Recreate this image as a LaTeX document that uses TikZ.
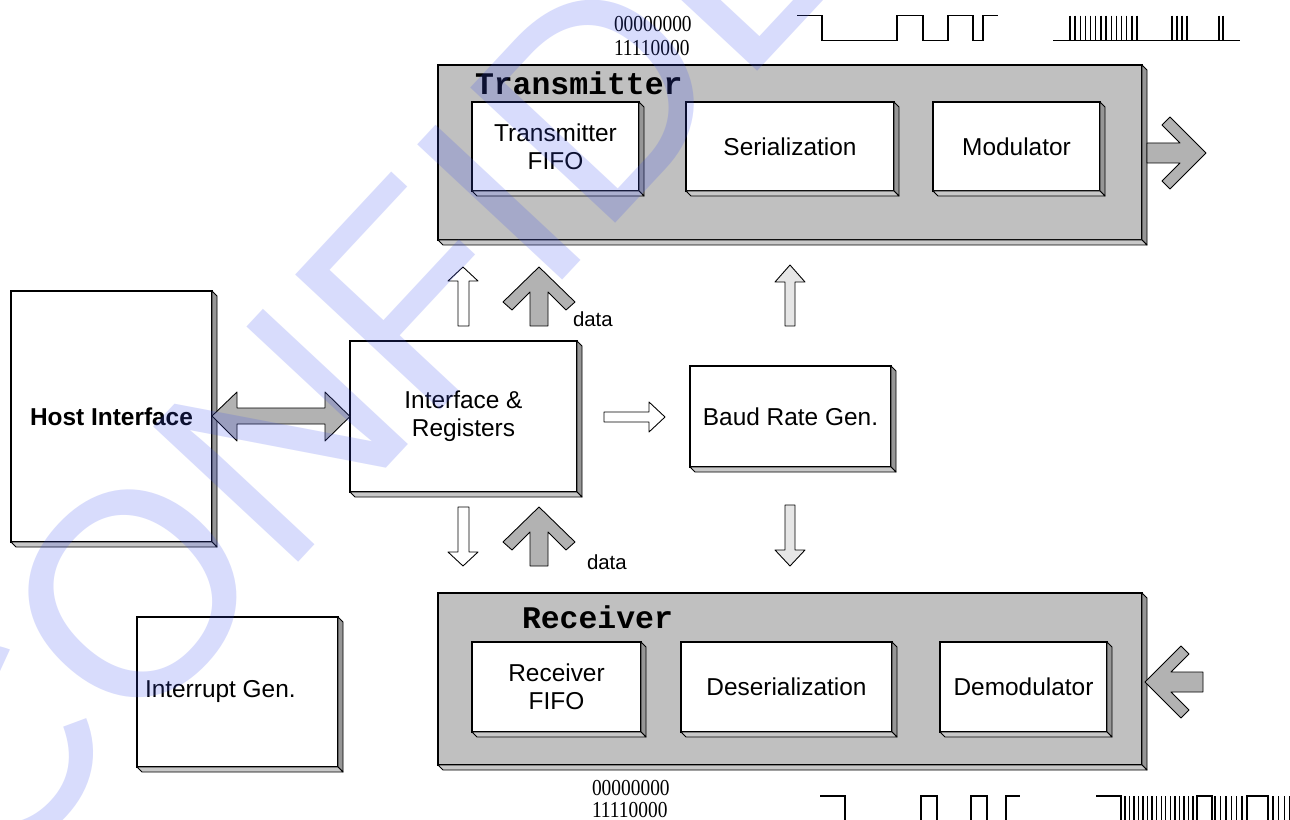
\documentclass[tikz,border=0pt]{standalone}
\usepackage{fontspec}
\usepackage{graphicx}
\setmainfont{Liberation Sans}
\newfontfamily\monob{Liberation Mono}
\newfontfamily\serifd{Liberation Serif}
\usetikzlibrary{calc}

\definecolor{boxgray}{RGB}{192,192,192}
\definecolor{sidedark}{RGB}{150,150,150}
\definecolor{sidelight}{RGB}{200,200,200}
\definecolor{arrowgray}{RGB}{178,178,178}
\definecolor{arrowlight}{RGB}{230,230,230}
\definecolor{wmblue}{RGB}{60,80,240}

\newcommand\lblfont{\fontsize{13.9}{16}\selectfont}
\newcommand\datafont{\fontsize{11.6}{13}\selectfont}
\newcommand\titlefont{\monob\bfseries\fontsize{17.9}{20}\selectfont}
\newcommand\digitfont{\serifd\fontsize{13}{13.6}\selectfont}

\tikzset{
  wbox/.style={draw=black, fill=white, line width=0.6pt, inner sep=0pt, outer sep=0pt, align=center, font=\lblfont},
  gbox/.style={draw=black, fill=boxgray, line width=0.6pt, inner sep=0pt, outer sep=0pt},
  sider/.style={fill=sidedark, draw=black, line width=0.5pt, line join=round},
  sideb/.style={fill=sidelight, draw=black, line width=0.5pt, line join=round},
  garrow/.style={fill=arrowgray, draw=black, line width=0.5pt, line join=round},
  warrow/.style={fill=white, draw=black, line width=0.5pt, line join=round},
  larrow/.style={fill=arrowlight, draw=black, line width=0.5pt, line join=round},
  wave/.style={draw=black, line width=0.8pt},
  txt/.style={inner sep=0pt, outer sep=0pt},
}

% name, x1, y1, x2, y2, style, text
\newcommand\tdbox[7]{%
  \node[#6, minimum width={(#4-#2)*0.02cm}, minimum height={(#5-#3)*0.02cm}] (#1) at ({(#2+#4)/2},{(#3+#5)/2}) {#7};
  \filldraw[sider] (#1.north east) -- ++(5,5) -- ([shift={(5,5)}]#1.south east) -- (#1.south east) -- cycle;
  \filldraw[sideb] (#1.south west) -- ++(5,5) -- ([shift={(5,5)}]#1.south east) -- (#1.south east) -- cycle;
}

\begin{document}
\begin{tikzpicture}[x=0.02cm, y=-0.02cm]
\useasboundingbox (0,0) rectangle (1290,820);
\fill[white] (0,0) rectangle (1290,820);

% containers
\tdbox{tx}{438}{65}{1142}{240}{gbox}{}
\tdbox{rx}{438}{593}{1142}{765}{gbox}{}
\node[txt, anchor=base west, font=\titlefont] (txtitle) at (475,95) {Transmitter};
\node[txt, anchor=base west, font=\titlefont] (rxtitle) at (522,628) {Receiver};

% transmitter blocks
\tdbox{tfifo}{472}{102}{639}{191}{wbox}{Transmitter\\FIFO}
\tdbox{ser}{686}{102}{894}{191}{wbox}{Serialization}
\tdbox{mod}{933}{102}{1100}{191}{wbox}{Modulator}

% receiver blocks
\tdbox{rfifo}{472}{642}{641}{732}{wbox}{Receiver\\FIFO}
\tdbox{deser}{681}{642}{892}{732}{wbox}{Deserialization}
\tdbox{demod}{940}{642}{1107}{732}{wbox}{Demodulator}

% other blocks
\tdbox{host}{11}{291}{212}{542}{wbox, font=\lblfont\bfseries}{Host Interface}
\tdbox{ifr}{350}{341}{577}{492}{wbox}{Interface \&\\Registers}
\tdbox{baud}{690}{366}{891}{467}{wbox}{Baud Rate Gen.}
\tdbox{intr}{137}{617}{338}{767}{wbox}{}
\node[txt, anchor=west, font=\lblfont] (intrtxt) at (145,692) {Interrupt Gen.};

% double arrow host <-> interface
\filldraw[garrow] (host.east |- 0,416) -- (237,392) -- (237,408) -- (325,408) -- (325,392)
  -- (ifr.west) -- (325,441) -- (325,424) -- (237,424) -- (237,441) -- cycle;

% interface -> baud
\filldraw[warrow] (604,412) -- (649,412) -- (649,402) -- (665,417) -- (649,432) -- (649,422) -- (604,422) -- cycle;

% white control arrows
\filldraw[warrow] (458,326) -- (458,281) -- (448,281) -- (463,267) -- (478,281) -- (469,281) -- (469,326) -- cycle;
\filldraw[warrow] (458,507) -- (469,507) -- (469,552) -- (478,552) -- (463,566) -- (448,552) -- (458,552) -- cycle;

% data arrows
\filldraw[garrow] (530,326) -- (530,292) -- (512,310) -- (503,302) -- (539,267) -- (575,302) -- (566,310) -- (548,292) -- (548,326) -- cycle;
\filldraw[garrow] (530,566) -- (530,532) -- (512,550) -- (503,542) -- (539,507) -- (575,542) -- (566,550) -- (548,532) -- (548,566) -- cycle;
\node[txt, anchor=base west, font=\datafont] (data1) at (573,327) {data};
\node[txt, anchor=base west, font=\datafont] (data2) at (587,569) {data};

% baud arrows
\filldraw[larrow] (785,326) -- (785,282) -- (775,282) -- (790,265) -- (805,282) -- (795,282) -- (795,326) -- cycle;
\filldraw[larrow] (785,505) -- (795,505) -- (795,550) -- (805,550) -- (790,566) -- (775,550) -- (785,550) -- cycle;

% output / input arrows
\filldraw[garrow] (1147,143) -- (1180,143) -- (1162,125) -- (1170,117) -- (1206,153) -- (1170,189) -- (1162,181) -- (1180,163) -- (1147,163) -- cycle;
\filldraw[garrow] (1203,672) -- (1171,672) -- (1189,654) -- (1181,646) -- (1145,682) -- (1181,718) -- (1189,710) -- (1171,692) -- (1203,692) -- cycle;

% bit patterns
\node[txt, anchor=base west, font=\digitfont] (tbits1) at (614,32) {\scalebox{0.85}[1]{00000000}};
\node[txt, anchor=base west, font=\digitfont] (tbits2) at (614,56) {\scalebox{0.85}[1]{11110000}};
\node[txt, anchor=base west, font=\digitfont] (rbits1) at (592,795) {\scalebox{0.85}[1]{00000000}};
\node[txt, anchor=base west, font=\digitfont] (rbits2) at (592,817) {\scalebox{0.85}[1]{11110000}};

% top waveforms
\draw[wave] (797,15.7) -- (822,15.7) -- (822,40.7) -- (897,40.7) -- (897,15.7) -- (923,15.7) -- (923,40.7)
  -- (948,40.7) -- (948,15.7) -- (973,15.7) -- (973,40.7) -- (983,40.7) -- (983,15.7) -- (998,15.7);
\draw[wave] (1053,40.7) -- (1240,40.7);
\foreach \k in {0,...,13} \draw[wave] ({1070+5.15*\k},15.7) -- ++(0,25);
\foreach \xx in {1172,1177,1182,1187,1219,1223} \draw[wave] (\xx,15.7) -- ++(0,25);

% bottom waveforms
\draw[wave] (820,796) -- (845,796) -- (845,825);
\draw[wave] (921,825) -- (921,796) -- (937,796) -- (937,825);
\draw[wave] (971,825) -- (971,796) -- (987,796) -- (987,825);
\draw[wave] (1006,825) -- (1006,796) -- (1020,796);
\draw[wave] (1096,796) -- (1121,796) -- (1121,825);
\foreach \k in {0,...,15} \draw[wave] ({1125+4.53*\k},796) -- ++(0,29);
\draw[wave] (1197,825) -- (1197,796) -- (1212,796) -- (1212,825);
\foreach \k in {0,...,5} \draw[wave] ({1215+5.4*\k},796) -- ++(0,29);
\draw[wave] (1247,825) -- (1247,796) -- (1268,796) -- (1268,825);
\foreach \k in {0,...,3} \draw[wave] ({1273+5.6*\k},796) -- ++(0,29);

% watermark
\begin{scope}
\clip (0,0) rectangle (1290,820);
\node[txt, anchor=base west, rotate=47, text=wmblue, text opacity=0.2, font=\fontsize{164}{164}\selectfont] (wm) at (-12,896) {CONFIDENTIAL};
\end{scope}
\end{tikzpicture}
\end{document}
